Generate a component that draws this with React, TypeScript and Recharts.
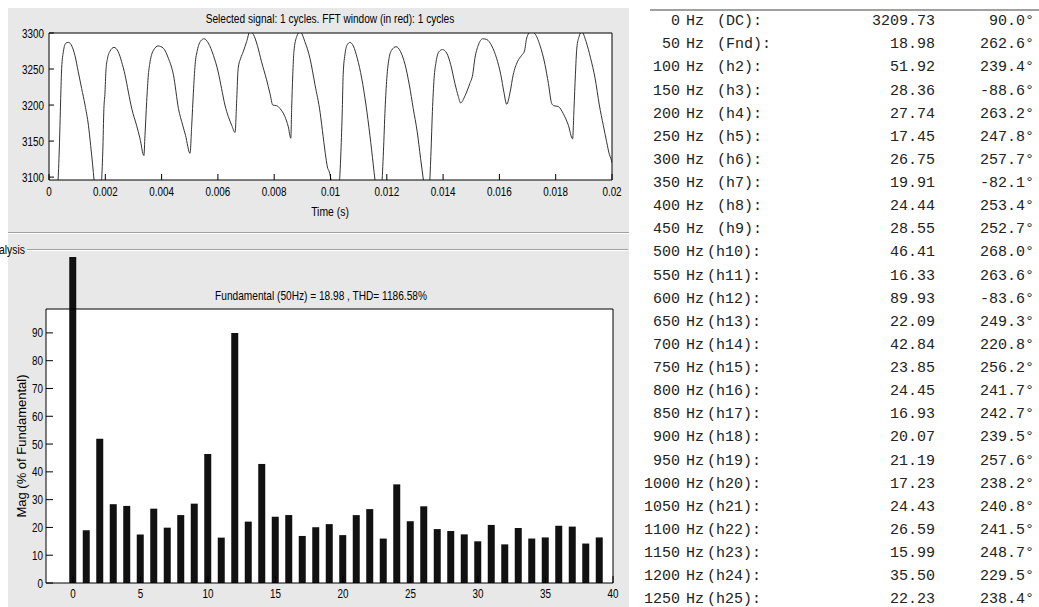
import React from 'react';
import { LineChart, Line, BarChart, Bar, XAxis, YAxis, CartesianGrid } from 'recharts';

// sampled waveform (time in ms, value)
const signalTimeMs = [
  0.0, 0.2, 0.3, 0.355, 0.39, 0.415, 0.45, 0.51, 0.6, 0.69, 0.81, 0.92, 1.04, 1.16, 1.28, 1.4, 1.48, 1.55, 1.6, 1.72,
  1.84, 1.86, 1.91, 1.95, 1.99, 2.02, 2.08, 2.17, 2.31, 2.46, 2.58, 2.7, 2.82, 2.94, 3.11, 3.23, 3.37, 3.41, 3.47, 3.53,
  3.59, 3.71, 3.88, 4.06, 4.24, 4.42, 4.6, 4.75, 4.85, 5.01, 5.07, 5.13, 5.19, 5.27, 5.39, 5.51, 5.66, 5.84, 6.01, 6.13,
  6.25, 6.37, 6.49, 6.61, 6.67, 6.72, 6.81, 6.9, 7.02, 7.14, 7.26, 7.4, 7.55, 7.73, 7.85, 7.95, 8.09, 8.21, 8.38, 8.5,
  8.59, 8.62, 8.66, 8.7, 8.8, 8.92, 9.09, 9.27, 9.45, 9.63, 9.74, 9.84, 9.89, 9.96, 10.02, 10.15, 10.3, 10.37, 10.42, 10.45,
  10.52, 10.6, 10.69, 10.81, 10.95, 11.11, 11.26, 11.4, 11.52, 11.58, 11.7, 11.82, 11.88, 11.94, 12.0, 12.08, 12.17, 12.33, 12.49, 12.65,
  12.8, 12.94, 13.08, 13.2, 13.3, 13.42, 13.52, 13.57, 13.62, 13.68, 13.75, 13.85, 13.98, 14.13, 14.27, 14.42, 14.54, 14.62, 14.78, 14.95,
  15.05, 15.13, 15.25, 15.41, 15.55, 15.73, 15.9, 16.05, 16.16, 16.26, 16.38, 16.49, 16.64, 16.79, 16.89, 16.97, 17.11, 17.26, 17.44, 17.62,
  17.74, 17.86, 17.94, 18.09, 18.27, 18.45, 18.6, 18.65, 18.7, 18.75, 18.83, 18.92, 19.08, 19.24, 19.4, 19.55, 19.69, 19.81, 19.91, 19.96,
  20.0,
];
const signalValue = [
  3040, 3070, 3085, 3126, 3172, 3209, 3251, 3274, 3286, 3287, 3282, 3269, 3246, 3223, 3200, 3172, 3144, 3117, 3096, 3055,
  3080, 3090, 3135, 3195, 3218, 3246, 3265, 3275, 3280, 3274, 3260, 3242, 3218, 3195, 3172, 3154, 3130, 3158, 3205, 3242,
  3260, 3276, 3282, 3279, 3265, 3242, 3195, 3172, 3158, 3133, 3172, 3218, 3256, 3276, 3289, 3292, 3286, 3269, 3246, 3223,
  3200, 3184, 3172, 3162, 3209, 3251, 3265, 3274, 3288, 3302, 3298, 3283, 3260, 3235, 3216, 3200, 3199, 3195, 3184, 3170,
  3154, 3195, 3242, 3274, 3295, 3302, 3288, 3265, 3228, 3190, 3156, 3126, 3114, 3107, 3096, 3060, 3085, 3135, 3195, 3242,
  3272, 3284, 3287, 3282, 3265, 3237, 3200, 3158, 3117, 3096, 3060, 3088, 3135, 3195, 3237, 3265, 3276, 3281, 3274, 3256,
  3228, 3195, 3163, 3126, 3096, 3060, 3090, 3135, 3191, 3237, 3260, 3274, 3277, 3272, 3256, 3230, 3212, 3203, 3213, 3230,
  3242, 3265, 3283, 3292, 3291, 3282, 3265, 3242, 3218, 3201, 3218, 3242, 3260, 3269, 3275, 3293, 3302, 3299, 3283, 3256,
  3230, 3202, 3199, 3198, 3188, 3172, 3153, 3195, 3242, 3279, 3295, 3302, 3288, 3265, 3237, 3200, 3172, 3149, 3131, 3126,
  3120,
];
const timeTicks = [0, 0.002, 0.004, 0.006, 0.008, 0.01, 0.012, 0.014, 0.016, 0.018, 0.02];
const signalTicks = [3100, 3150, 3200, 3250, 3300];

// harmonic magnitudes 0..39 (0..25 as listed in the table)
const harmonicMag = [
  3209.73, 18.98, 51.92, 28.36, 27.74, 17.45, 26.75, 19.91, 24.44, 28.55,
  46.41, 16.33, 89.93, 22.09, 42.84, 23.85, 24.45, 16.93, 20.07, 21.19,
  17.23, 24.43, 26.59, 15.99, 35.5, 22.23, 27.6, 19.4, 18.7, 17.5,
  15.0, 20.9, 13.9, 19.8, 16.0, 16.4, 20.6, 20.3, 14.2, 16.4,
];
const tablePhase = [
  90.0, 262.6, 239.4, -88.6, 263.2, 247.8, 257.7, -82.1, 253.4, 252.7, 268.0, 263.6, -83.6,
  249.3, 220.8, 256.2, 241.7, 242.7, 239.5, 257.6, 238.2, 240.8, 241.5, 248.7, 229.5, 238.4,
];
const orderTicks = [0, 5, 10, 15, 20, 25, 30, 35, 40];
const magTicks = [0, 10, 20, 30, 40, 50, 60, 70, 80, 90];

const signalData = signalTimeMs.map((t, i) => ({ t: t / 1000, v: signalValue[i] }));
const barData = harmonicMag.map((m, i) => ({ order: i, mag: m }));

const F = "'Liberation Sans', Arial, sans-serif";
const MONO = "'Liberation Mono', 'DejaVu Sans Mono', monospace";
const ax = { stroke: '#000' };

const fmtTime = (v: number) => String(+v.toFixed(3));

// narrow matlab-ish tick labels
function NarrowTick(props: any) {
  const { x, y, payload, textAnchor, verticalAnchor, fmt } = props;
  const label = fmt ? fmt(payload.value) : String(payload.value);
  const dy = verticalAnchor === 'start' ? '0.71em' : '0.35em';
  return (
    <g transform={`translate(${x},${y})`}>
      <text transform="scale(0.76,1)" textAnchor={textAnchor} dy={dy} fontSize={13} fontFamily={F} fill="#000">
        {label}
      </text>
    </g>
  );
}

function Txt({ x, y, children, anchor = 'middle', size = 13, sx = 0.78, rotate = 0 }: any) {
  return (
    <text transform={`translate(${x},${y}) rotate(${rotate}) scale(${sx},1)`} textAnchor={anchor} dy="0.35em"
      fontSize={size} fontFamily={F} fill="#000">
      {children}
    </text>
  );
}

function rowLabel(i: number) {
  if (i === 0) return '(DC):';
  if (i === 1) return '(Fnd):';
  return `(h${i}):`;
}

export default function App() {
  return (
    <div style={{ position: 'absolute', left: 0, top: 0, width: 1039, height: 607, overflow: 'hidden', background: '#fff' }}>
      <style>{'.bars-wrap [clip-path]{clip-path:none !important}'}</style>
      <svg width={1039} height={607} style={{ position: 'absolute', left: 0, top: 0 }}>
        <rect x={8} y={8} width={621} height={599} fill="#e8e8e8" />
        <Txt x={330} y={18}>Selected signal: 1 cycles. FFT window (in red): 1 cycles</Txt>
        <Txt x={330} y={211} sx={0.8}>Time (s)</Txt>
        <line x1={8} x2={629} y1={232.5} y2={232.5} stroke="#a0a0a0" />
        <line x1={8} x2={629} y1={233.5} y2={233.5} stroke="#fff" />
        <Txt x={25} y={249} anchor="end" sx={0.8}>FFT Analysis</Txt>
        <line x1={27} x2={628} y1={249.5} y2={249.5} stroke="#a0a0a0" />
        <line x1={27} x2={628} y1={250.5} y2={250.5} stroke="#fff" />
        <Txt x={321} y={295}>Fundamental (50Hz) = 18.98 , THD= 1186.58%</Txt>
        <Txt x={21} y={446} rotate={-90} sx={1}>Mag (% of Fundamental)</Txt>
        <Txt x={330} y={616} sx={0.8}>Harmonic order</Txt>

        <line x1={650} x2={1039} y1={10} y2={10} stroke="#a0a0a0" strokeWidth={2} />
        {tablePhase.map((p, i) => {
          const y = 20 + 23.12 * i;
          const lab = rowLabel(i);
          return (
            <g key={i} fontFamily={MONO} fontSize={15} fill="#222">
              <text x={680} y={y} dy="0.35em" textAnchor="end">{String(i * 50)}</text>
              <text x={686} y={y} dy="0.35em">Hz</text>
              <text x={i >= 10 ? 707 : 717} y={y} dy="0.35em">{lab}</text>
              <text x={935} y={y} dy="0.35em" textAnchor="end">{harmonicMag[i].toFixed(2)}</text>
              <text x={1034} y={y} dy="0.35em" textAnchor="end">{p.toFixed(1) + '°'}</text>
            </g>
          );
        })}
      </svg>

      <div style={{ position: 'absolute', left: 0, top: 0 }}>
        <LineChart width={630} height={235} data={signalData} margin={{ top: 32, right: 17, bottom: 0, left: 0 }}>
          <CartesianGrid horizontal={false} vertical={false} fill="#fff" />
          <XAxis dataKey="t" type="number" domain={[0, 0.02]} allowDataOverflow ticks={timeTicks}
            height={55} tickSize={-6} tickMargin={13} axisLine={ax} tickLine={ax} tick={<NarrowTick fmt={fmtTime} />} interval={0} />
          <XAxis xAxisId="top" orientation="top" type="number" domain={[0, 0.02]} allowDataOverflow ticks={timeTicks}
            height={1} tickSize={-6} axisLine={ax} tickLine={ax} tick={false} interval={0} />
          <YAxis type="number" domain={[3096, 3300]} allowDataOverflow ticks={signalTicks} width={49} tickSize={-5}
            tickMargin={10} axisLine={ax} tickLine={ax} tick={<NarrowTick />} interval={0} />
          <YAxis yAxisId="right" orientation="right" type="number" domain={[3096, 3300]} allowDataOverflow ticks={signalTicks}
            width={1} tickSize={-5} axisLine={ax} tickLine={ax} tick={false} interval={0} />
          <Line type="monotone" dataKey="v" stroke="#333" strokeWidth={1} dot={false} isAnimationActive={false} />
        </LineChart>
      </div>

      <div className="bars-wrap" style={{ position: 'absolute', left: 0, top: 257, width: 630, height: 350, overflow: 'hidden' }}>
        <BarChart width={630} height={350} data={barData} margin={{ top: 51, right: 16, bottom: 0, left: 0 }}>
          <CartesianGrid horizontal={false} vertical={false} fill="#fff" />
          <XAxis dataKey="order" type="number" domain={[-2, 40]} allowDataOverflow ticks={orderTicks} height={24}
            tickSize={-7} tickMargin={13} axisLine={ax} tickLine={ax} tick={<NarrowTick />} interval={0} />
          <XAxis xAxisId="top" orientation="top" type="number" domain={[-2, 40]} allowDataOverflow ticks={orderTicks}
            height={1} tickSize={-7} axisLine={ax} tickLine={ax} tick={false} interval={0} />
          <YAxis type="number" domain={[0, 98.6]} allowDataOverflow ticks={magTicks} width={46} tickSize={-7}
            tickMargin={10} axisLine={ax} tickLine={ax} tick={<NarrowTick />} interval={0} />
          <YAxis yAxisId="right" orientation="right" type="number" domain={[0, 98.6]} allowDataOverflow ticks={magTicks}
            width={1} tickSize={-7} axisLine={ax} tickLine={ax} tick={false} interval={0} />
          <Bar dataKey="mag" fill="#111" barSize={7} isAnimationActive={false} />
        </BarChart>
      </div>
    </div>
  );
}
